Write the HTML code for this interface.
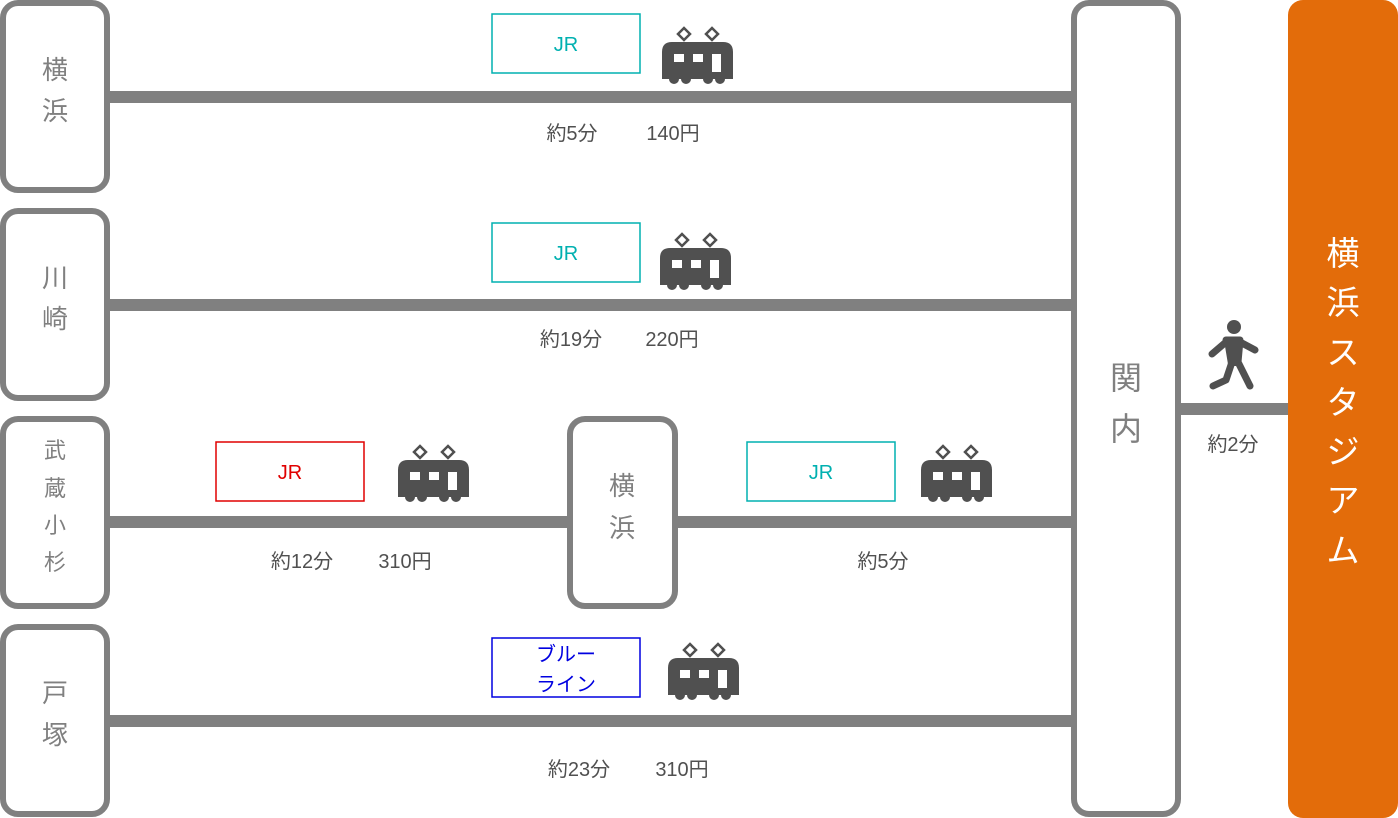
<!DOCTYPE html>
<html><head><meta charset="utf-8"><style>
body{margin:0;background:#fff}
svg{display:block}
text{font-family:"Liberation Sans","Noto Sans CJK JP",sans-serif}
</style></head><body>
<svg width="1398" height="818" viewBox="0 0 1398 818" xmlns="http://www.w3.org/2000/svg">
<defs>
<g id="tr">
<path d="M16,7 L22,1 L28,7 L22,13 Z M44,7 L50,1 L56,7 L50,13 Z" fill="none" stroke="#505050" stroke-width="2.5"/>
<path d="M0,25 Q0,15 10,15 L61,15 Q71,15 71,25 L71,52 L0,52 Z" fill="#505050"/>
<circle cx="12" cy="52" r="5" fill="#505050"/><circle cx="24" cy="52" r="5" fill="#505050"/>
<circle cx="46" cy="52" r="5" fill="#505050"/><circle cx="58" cy="52" r="5" fill="#505050"/>
<rect x="12" y="27" width="10" height="8" fill="#fff"/><rect x="31" y="27" width="10" height="8" fill="#fff"/><rect x="50" y="27" width="9" height="18" fill="#fff"/>
</g>
</defs>
<g fill="#808080">
<rect x="107" y="91" width="967" height="12"/>
<rect x="107" y="299" width="967" height="12"/>
<rect x="107" y="516" width="463" height="12"/>
<rect x="675" y="516" width="399" height="12"/>
<rect x="107" y="715" width="967" height="12"/>
<rect x="1178" y="403" width="112" height="12"/>
</g>
<g fill="#fff" stroke="#808080" stroke-width="6">
<rect x="3" y="3" width="104" height="187" rx="15"/>
<rect x="3" y="211" width="104" height="187" rx="15"/>
<rect x="3" y="419" width="104" height="187" rx="15"/>
<rect x="3" y="627" width="104" height="187" rx="15"/>
<rect x="570" y="419" width="105" height="187" rx="15"/>
<rect x="1074" y="3" width="104" height="811" rx="15"/>
</g>
<rect x="1288" y="0" width="110" height="818" rx="15" fill="#e36c0a"/>
<g fill="#808080" font-size="26" text-anchor="middle">
<text x="55" y="79">横</text><text x="55" y="120">浜</text>
<text x="55" y="287">川</text><text x="55" y="328">崎</text>
<text x="55" y="702">戸</text><text x="55" y="744">塚</text>
<text x="622" y="495">横</text><text x="622" y="537">浜</text>
</g>
<g fill="#808080" font-size="22" text-anchor="middle">
<text x="55" y="458">武</text><text x="55" y="496">蔵</text><text x="55" y="533">小</text><text x="55" y="570">杉</text>
</g>
<g fill="#808080" font-size="32" text-anchor="middle">
<text x="1126" y="389">関</text><text x="1126" y="440">内</text>
</g>
<g fill="#fff" font-size="33" text-anchor="middle">
<text x="1343" y="265">横</text><text x="1343" y="314">浜</text><text x="1343" y="364">ス</text><text x="1343" y="414">タ</text><text x="1343" y="463">ジ</text><text x="1343" y="512">ア</text><text x="1343" y="562">ム</text>
</g>
<g fill="none" stroke-width="1.5">
<rect x="492" y="14" width="148" height="59" stroke="#00b0b0"/>
<rect x="492" y="223" width="148" height="59" stroke="#00b0b0"/>
<rect x="216" y="442" width="148" height="59" stroke="#e00000"/>
<rect x="747" y="442" width="148" height="59" stroke="#00b0b0"/>
<rect x="492" y="638" width="148" height="59" stroke="#0000e0"/>
</g>
<g font-size="20" text-anchor="middle">
<text x="566" y="51" fill="#00b0b0">JR</text>
<text x="566" y="260" fill="#00b0b0">JR</text>
<text x="290" y="479" fill="#e00000">JR</text>
<text x="821" y="479" fill="#00b0b0">JR</text>
<text x="566" y="661" fill="#0000e0">ブルー</text>
<text x="566" y="691" fill="#0000e0">ライン</text>
</g>
<g fill="#505050" font-size="20" text-anchor="middle">
<text x="572" y="140">約5分</text><text x="673" y="140">140円</text>
<text x="571" y="346">約19分</text><text x="672" y="346">220円</text>
<text x="302" y="568">約12分</text><text x="405" y="568">310円</text>
<text x="883" y="568">約5分</text>
<text x="579" y="776">約23分</text><text x="682" y="776">310円</text>
<text x="1233" y="451">約2分</text>
</g>
<use href="#tr" x="662" y="27"/>
<use href="#tr" x="660" y="233"/>
<use href="#tr" x="398" y="445"/>
<use href="#tr" x="921" y="445"/>
<use href="#tr" x="668" y="643"/>
<g fill="#505050" stroke="#505050" stroke-linecap="round" stroke-linejoin="round">
<circle cx="1234" cy="327" r="7" stroke="none"/>
<path d="M1226,340 L1240,340 L1238,362 L1250,386 M1232,362 L1226,380 L1213,386 M1226,342 L1212,354 M1240,342 L1255,350" fill="none" stroke-width="7"/>
<path d="M1226,340 L1240,340 L1238,364 L1230,364 Z" stroke-width="4"/>
</g>
</svg>
</body></html>
